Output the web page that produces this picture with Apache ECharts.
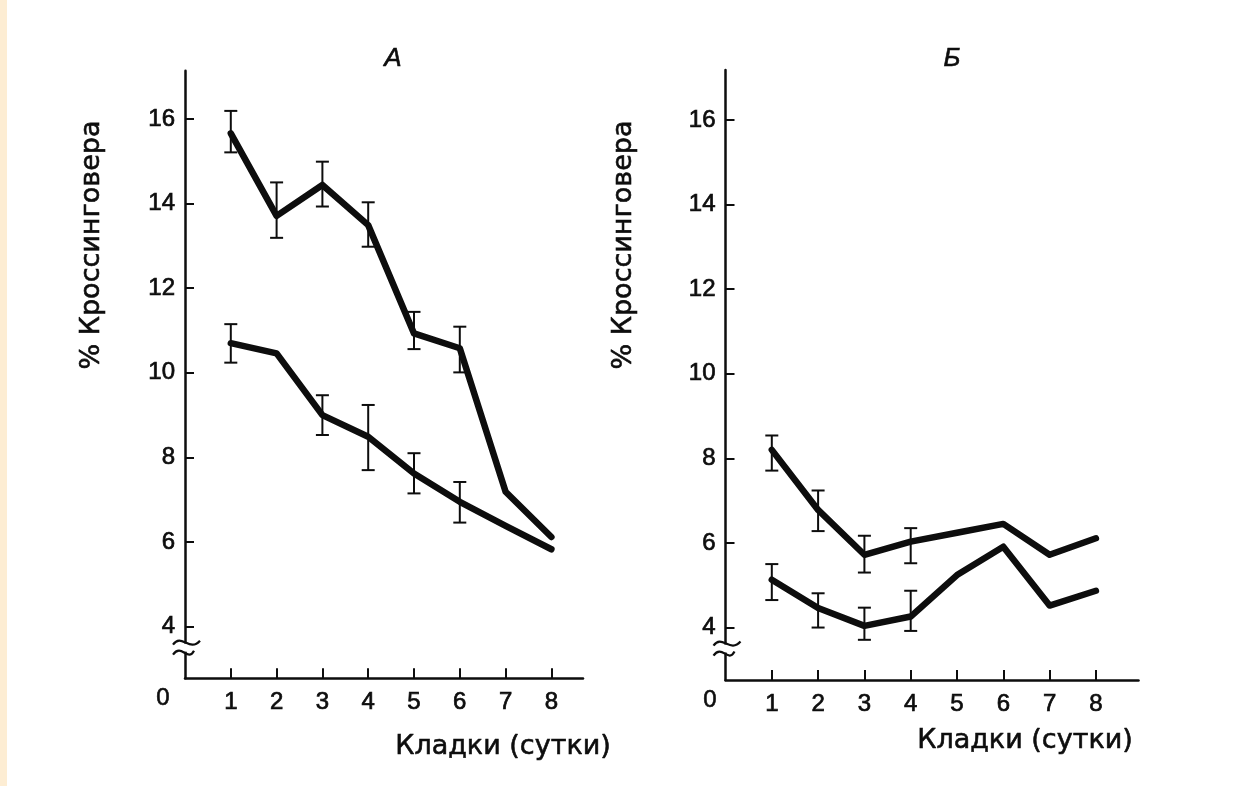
<!DOCTYPE html>
<html>
<head>
<meta charset="utf-8">
<script src="https://cdn.jsdelivr.net/npm/echarts@6/dist/echarts.min.js"></script>
<style>
html,body{margin:0;padding:0;background:#fff;}
#strip{position:absolute;left:0;top:0;width:7px;height:786px;background:#fdedd3;}
#c{position:absolute;left:0;top:0;width:1240px;height:786px;}
</style>
</head>
<body>
<div id="strip"></div>
<div id="c"></div>
<script>
// ---- data ----
const days = [1, 2, 3, 4, 5, 6, 7, 8];
const yTicks = [4, 6, 8, 10, 12, 14, 16];
const xTicks = [1, 2, 3, 4, 5, 6, 7, 8];
const panelTitles = ['А', 'Б'];
const yName = '% Кроссинговера';
const xName = 'Кладки (сутки)';
const originLabel = '0';

// Panel A
const aUpper = [15.66, 13.71, 14.44, 13.49, 10.93, 10.58, 7.19, 6.12];
const aLower = [10.70, 10.46, 9.00, 8.49, 7.62, 6.95, 6.38, 5.83];
const aUpperErrX = [1, 2, 3, 4, 5, 6];
const aUpperErrLo = [15.21, 13.19, 13.93, 12.98, 10.56, 10.01];
const aUpperErrHi = [16.19, 14.50, 14.99, 14.03, 11.44, 11.09];
const aLowerErrX = [1, 3, 4, 5, 6];
const aLowerErrLo = [10.24, 8.53, 7.70, 7.15, 6.46];
const aLowerErrHi = [11.15, 9.47, 9.24, 8.10, 7.42];

// Panel Б
const bUpper = [8.20, 6.78, 5.72, 6.03, 6.24, 6.45, 5.72, 6.11];
const bLower = [5.13, 4.46, 4.04, 4.26, 5.24, 5.91, 4.52, 4.87];
const bUpperErrX = [1, 2, 3, 4];
const bUpperErrLo = [7.71, 6.28, 5.30, 5.52];
const bUpperErrHi = [8.54, 7.24, 6.17, 6.35];
const bLowerErrX = [1, 2, 3, 4];
const bLowerErrLo = [4.65, 4.00, 3.71, 3.92];
const bLowerErrHi = [5.50, 4.81, 4.47, 4.87];

// ---- helpers ----
const INK = '#0d0d0d';
const NUMFONT = '"Liberation Sans", Arial, sans-serif';
const NAMEFONT = '"DejaVu Sans", sans-serif';

function pairs(xs, ys) { return xs.map((x, i) => [x, ys[i]]); }
function errData(xs, lo, hi) { return xs.map((x, i) => [x, lo[i], hi[i]]); }

function lineSeries(idx, ys) {
  return {
    type: 'line', xAxisIndex: idx, yAxisIndex: idx,
    data: pairs(days, ys), showSymbol: false, symbol: 'none',
    lineStyle: { color: INK, width: 6.5, join: 'round', cap: 'round' },
    z: 3, silent: true
  };
}
function errSeries(idx, data) {
  return {
    type: 'custom', xAxisIndex: idx, yAxisIndex: idx, data: data, z: 2, silent: true,
    renderItem: function (params, api) {
      const x = api.value(0);
      const pHi = api.coord([x, api.value(2)]);
      const pLo = api.coord([x, api.value(1)]);
      const hw = 6.5;
      const st = { stroke: INK, lineWidth: 2 };
      return {
        type: 'group',
        children: [
          { type: 'line', shape: { x1: pHi[0], y1: pHi[1], x2: pLo[0], y2: pLo[1] }, style: st },
          { type: 'line', shape: { x1: pHi[0] - hw, y1: pHi[1], x2: pHi[0] + hw, y2: pHi[1] }, style: st },
          { type: 'line', shape: { x1: pLo[0] - hw, y1: pLo[1], x2: pLo[0] + hw, y2: pLo[1] }, style: st }
        ]
      };
    }
  };
}
const labelStyle = { color: INK, fontSize: 24, fontFamily: NUMFONT, textBorderColor: INK, textBorderWidth: 0.7 };
function xAxisCfg(idx, max) {
  return {
    type: 'value', gridIndex: idx, min: 0, max: max,
    axisLine: { show: true, onZero: false, lineStyle: { color: INK, width: 2.5 } },
    axisTick: { show: true, inside: true, length: 10, customValues: xTicks, lineStyle: { color: INK, width: 2 } },
    axisLabel: Object.assign({ show: true, customValues: xTicks, margin: 12 }, labelStyle),
    splitLine: { show: false }
  };
}
function yAxisCfg(idx, min, max) {
  return {
    type: 'value', gridIndex: idx, min: min, max: max,
    axisLine: { show: true, onZero: false, lineStyle: { color: INK, width: 2.5 } },
    axisTick: { show: true, inside: true, length: 9, customValues: yTicks, lineStyle: { color: INK, width: 2 } },
    axisLabel: Object.assign({ show: true, customValues: yTicks, margin: 10 }, labelStyle),
    splitLine: { show: false }
  };
}

const chart = echarts.init(document.getElementById('c'), null, { renderer: 'canvas' });
chart.setOption({
  backgroundColor: 'transparent',
  animation: false,
  grid: [
    { left: 185, top: 70.7, width: 398, height: 607.6 },
    { left: 725.5, top: 70, width: 413, height: 610 }
  ],
  xAxis: [xAxisCfg(0, 8.69), xAxisCfg(1, 8.92)],
  yAxis: [yAxisCfg(0, 2.78, 17.14), yAxisCfg(1, 2.76, 17.18)],
  series: [
    lineSeries(0, aUpper), lineSeries(0, aLower),
    errSeries(0, errData(aUpperErrX, aUpperErrLo, aUpperErrHi)),
    errSeries(0, errData(aLowerErrX, aLowerErrLo, aLowerErrHi)),
    lineSeries(1, bUpper), lineSeries(1, bLower),
    errSeries(1, errData(bUpperErrX, bUpperErrLo, bUpperErrHi)),
    errSeries(1, errData(bLowerErrX, bLowerErrLo, bLowerErrHi))
  ]
});

// ---- decorations: titles, axis names, origin labels, axis breaks ----
function wave(cx, cy, w1, w2) {
  return {
    type: 'bezierCurve', z: 51,
    shape: { x1: cx - w1, y1: cy + 2, cpx1: cx - w1 * 0.3, cpy1: cy - 10, cpx2: cx + w2 * 0.3, cpy2: cy + 10, x2: cx + w2, y2: cy - 2 },
    style: { fill: null, stroke: INK, lineWidth: 2.2 }
  };
}
function txt(x, y, s, font, rot) {
  return { type: 'text', z: 50, x: x, y: y, rotation: rot || 0,
    style: { text: s, font: font, fill: INK, stroke: INK, lineWidth: 0.6, align: 'center', verticalAlign: 'middle' } };
}
const gfx = [];
[0, 1].forEach(function (i) {
  const yMin = i === 0 ? 2.78 : 2.76;
  const origin = chart.convertToPixel({ gridIndex: i }, [0, yMin]);
  const p4 = chart.convertToPixel({ gridIndex: i }, [0, 4]);
  const ax = origin[0];
  const yb1 = p4[1] + 16, yb2 = p4[1] + 26;
  // gap in axis
  gfx.push({ type: 'rect', z: 50, shape: { x: ax - 3, y: yb1 + 1, width: 6, height: yb2 - yb1 - 2 }, style: { fill: '#fff' } });
  gfx.push(wave(ax, yb1, 12, 15));
  gfx.push(wave(ax, yb2, 12, 9));
  // origin "0"
  gfx.push(txt(ax - (i === 0 ? 22 : 15.5), origin[1] + 20, originLabel, '24px ' + NUMFONT));
  // title
  gfx.push(txt(i === 0 ? 393 : 952, 59, panelTitles[i], 'italic 26px ' + NUMFONT));
  // y name
  gfx.push(txt(i === 0 ? 92 : 624, 245, yName, '27px ' + NAMEFONT, Math.PI / 2));
  // x name
  gfx.push(txt(i === 0 ? 503 : 1025, i === 0 ? 747 : 741, xName, '27px ' + NAMEFONT));
});
chart.setOption({ graphic: { elements: gfx } });
</script>
</body>
</html>
